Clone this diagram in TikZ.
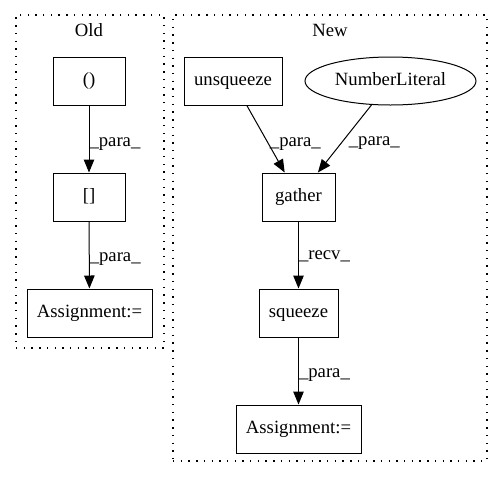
\documentclass[tikz,border=0pt]{standalone}
\usepackage{fontspec}
\setmainfont{Liberation Serif}
\usetikzlibrary{arrows.meta,shapes.geometric}
\begin{document}
\begin{tikzpicture}[x=1pt,y=-1pt,
  txt/.style={font=\fontsize{18.7}{22}\selectfont, text height=12.7pt, text depth=4.1pt},
  box/.style={txt, draw, line width=1pt, minimum height=48pt, inner sep=0pt},
  oval/.style={txt, draw, ellipse, line width=1pt, minimum height=48pt, minimum width=171pt, inner sep=0pt},
  cluster/.style={draw, line width=1.2pt, dash pattern=on 1.4pt off 6.3pt, inner sep=0pt},
  lbl/.style={txt, inner sep=0pt, anchor=west},
  edge/.style={line width=1pt, -{Triangle[length=13pt,width=10.5pt]}}
]
\useasboundingbox (0,0) rectangle (503,480);
% clusters
\node[cluster, minimum width=148pt, minimum height=333pt] (oldc) at (90,181.5) {};
\node[cluster, minimum width=314pt, minimum height=446pt] (newc) at (330,238) {};
\node[txt, inner sep=0pt] (oldlbl) at (89,32) {Old};
\node[txt, inner sep=0pt] (newlbl) at (330,32) {New};
% old nodes
\node[box, minimum width=72pt] (oldp) at (89,81) {()};
\node[box, minimum width=72pt] (oldb) at (89,197) {[]};
\node[box, minimum width=125pt] (olda) at (89.5,313) {Assignment:=};
% new nodes
\node[box, minimum width=98pt] (unsq) at (233,81) {unsqueeze};
\node[oval] (numlit) at (390.5,81) {NumberLiteral};
\node[box, minimum width=73pt] (gather) at (298.5,197) {gather};
\node[box, minimum width=79pt] (squeeze) at (298.5,313) {squeeze};
\node[box, minimum width=125pt] (newa) at (298.5,429) {Assignment:=};
% edges
\draw[edge] (oldp) -- node[lbl, pos=0.544] (l1) {\_para\_} (oldb);
\draw[edge] (oldb) -- node[lbl, pos=0.53] (l2) {\_para\_} (olda);
\draw[edge] (unsq) -- node[lbl, pos=0.544, xshift=2pt] (l3) {\_para\_} (gather);
\draw[edge] (numlit) -- node[lbl, pos=0.544, xshift=6pt] (l4) {\_para\_} (gather);
\draw[edge] (gather) -- node[lbl, pos=0.5] (l5) {\_recv\_} (squeeze);
\draw[edge] (squeeze) -- node[lbl, pos=0.53] (l6) {\_para\_} (newa);
\end{tikzpicture}
\end{document}
